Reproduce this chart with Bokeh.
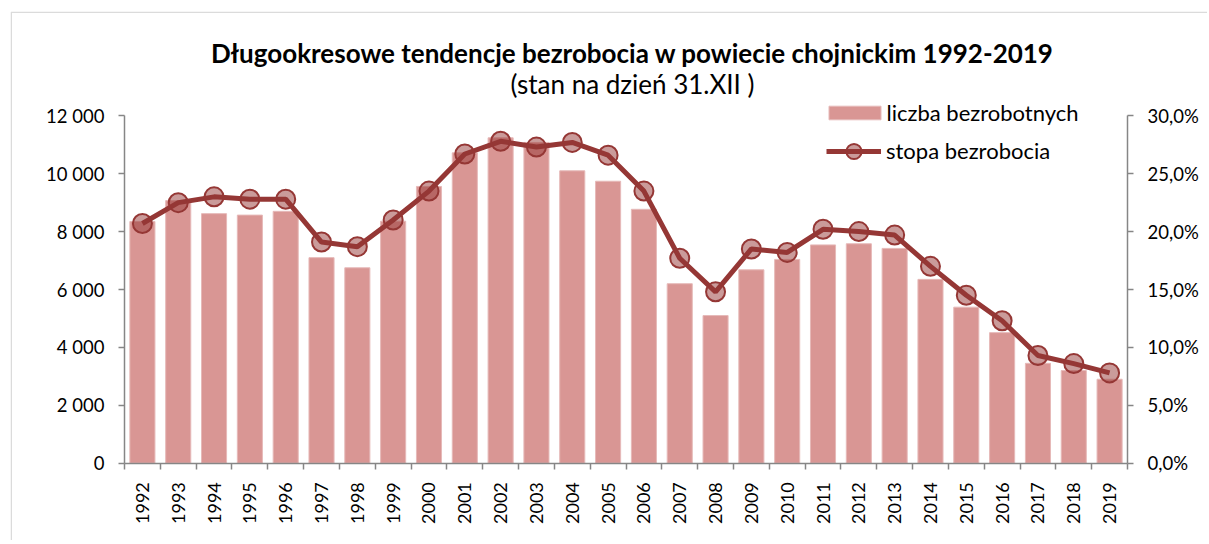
import math
from bokeh.plotting import figure
from bokeh.models import (Range1d, LinearAxis, FixedTicker, Legend, LegendItem,
                          Label, BoxAnnotation)
from bokeh.embed import file_html
from bokeh.resources import INLINE

years = [str(y) for y in range(1992, 2020)]
unemployed = [8350, 9070, 8620, 8570, 8700, 7100, 6750, 8360, 9560, 10720,
              11240, 11080, 10100, 9740, 8770, 6200, 5100, 6680, 7040, 7540,
              7580, 7420, 6350, 5390, 4510, 3450, 3200, 2900]
rate = [20.7, 22.5, 23.0, 22.8, 22.8, 19.1, 18.7, 21.0, 23.5, 26.7,
        27.8, 27.3, 27.7, 26.6, 23.5, 17.7, 14.8, 18.5, 18.2, 20.2,
        20.0, 19.7, 17.0, 14.5, 12.3, 9.3, 8.6, 7.8]
left_ticks = [0, 2000, 4000, 6000, 8000, 10000, 12000]
left_labels = ["0", "2 000", "4 000", "6 000", "8 000", "10 000", "12 000"]
right_ticks = [0, 5, 10, 15, 20, 25, 30]
right_labels = ["0,0%", "5,0%", "10,0%", "15,0%", "20,0%", "25,0%", "30,0%"]
title_text = "Długookresowe tendencje bezrobocia w powiecie chojnickim 1992-2019"
subtitle_text = "(stan na dzień 31.XII )"
bar_name = "liczba bezrobotnych"
line_name = "stopa bezrobocia"

FONT = "Lato"
AXIS_COLOR = "#868686"
BAR_COLOR = "#D99694"
LINE_COLOR = "#953735"

# ---- layout (pixels) ----
W, H = 1207, 540
FR_L, FR_T = 10, 11              # frame = whole chart area (outer border)
AX_L, AX_R = 124.0, 1127.0       # plot-area left / right (px)
AX_TOP, AX_BOT = 115.3, 462.7    # plot-area top (max value) / bottom (zero)

n = len(years)
xs = list(range(n))
Y_MAX = left_ticks[-1]
R_MAX = right_ticks[-1]

px_per_cat = (AX_R - AX_L) / n
x_start = -0.5 - (AX_L - FR_L) / px_per_cat
x_end = -0.5 + (W - AX_L) / px_per_cat
upp = Y_MAX / (AX_BOT - AX_TOP)
y_start = -(H - AX_BOT) * upp
y_end = (AX_BOT - FR_T) * upp
rpp = R_MAX / (AX_BOT - AX_TOP)
r_start = -(H - AX_BOT) * rpp
r_end = (AX_BOT - FR_T) * rpp

p = figure(width=W, height=H, output_backend="svg", toolbar_location=None,
           x_range=Range1d(x_start, x_end), y_range=Range1d(y_start, y_end),
           min_border_left=FR_L, min_border_right=0, min_border_top=FR_T,
           min_border_bottom=0, outline_line_color=None)
p.extra_y_ranges = {"rate": Range1d(r_start, r_end)}
p.xgrid.visible = False
p.ygrid.visible = False

bars = p.vbar(x=xs, top=unemployed, width=0.7, fill_color=BAR_COLOR,
              line_color="#E6B9B8", line_width=1)
line = p.line(x=xs, y=rate, y_range_name="rate", line_color=LINE_COLOR,
              line_width=5)
dots = p.scatter(x=xs, y=rate, y_range_name="rate", marker="circle", size=19,
                 fill_color=LINE_COLOR, fill_alpha=0.5, line_color=LINE_COLOR,
                 line_width=2)

# x axis
xa = p.xaxis[0]
xa.fixed_location = 0
xa.bounds = (-0.5, n - 0.5)
xa.ticker = FixedTicker(ticks=xs, minor_ticks=[i - 0.5 for i in range(n + 1)])
xa.major_label_overrides = {i: years[i] for i in xs}
xa.major_label_orientation = math.pi / 2
xa.major_tick_out = 0
xa.major_tick_in = 0
xa.minor_tick_out = 6
xa.minor_tick_in = 0
xa.minor_tick_line_color = AXIS_COLOR
xa.minor_tick_line_width = 1.5
xa.axis_line_color = AXIS_COLOR
xa.axis_line_width = 1.5
xa.major_label_standoff = 13
xa.major_label_text_font = FONT
xa.major_label_text_font_size = "18px"
xa.major_label_text_color = "black"

# left axis
ya = p.yaxis[0]
ya.fixed_location = -0.5
ya.bounds = (0, Y_MAX)
ya.ticker = FixedTicker(ticks=left_ticks)
ya.major_label_overrides = {t: l for t, l in zip(left_ticks, left_labels)}
ya.major_tick_out = 6
ya.major_tick_in = 0
ya.major_tick_line_color = AXIS_COLOR
ya.major_tick_line_width = 1.5
ya.minor_tick_line_color = None
ya.axis_line_color = AXIS_COLOR
ya.axis_line_width = 1.5
ya.major_label_standoff = 14
ya.major_label_text_font = FONT
ya.major_label_text_font_size = "18.5px"
ya.major_label_text_color = "black"

# right axis
ra = LinearAxis(y_range_name="rate", ticker=FixedTicker(ticks=right_ticks),
                fixed_location=n - 0.5, bounds=(0, R_MAX))
ra.major_label_overrides = {t: l for t, l in zip(right_ticks, right_labels)}
ra.major_tick_out = 6
ra.major_tick_in = 0
ra.major_tick_line_color = AXIS_COLOR
ra.major_tick_line_width = 1.5
ra.minor_tick_line_color = None
ra.axis_line_color = AXIS_COLOR
ra.axis_line_width = 1.5
ra.major_label_standoff = 14
ra.major_label_text_font = FONT
ra.major_label_text_font_size = "18.5px"
ra.major_label_text_color = "black"
p.add_layout(ra, "right")

# titles (screen units)
FH = H - FR_T
p.add_layout(Label(x=632 - FR_L, y=H - 52, x_units="screen", y_units="screen",
                   text=title_text, text_align="center", text_baseline="alphabetic",
                   text_font=FONT, text_font_style="bold", text_font_size="26px",
                   text_color="black"))
p.add_layout(Label(x=632 - FR_L, y=H - 83, x_units="screen", y_units="screen",
                   text=subtitle_text, text_align="center", text_baseline="alphabetic",
                   text_font=FONT, text_font_size="26px", text_color="black"))

# outer chart border (left and top edges; others run off the page)
p.add_layout(BoxAnnotation(left=0.75, right=W + 50, top=FH - 0.75, bottom=-50,
                           left_units="screen", right_units="screen",
                           top_units="screen", bottom_units="screen",
                           fill_alpha=0, line_color="#898989", line_width=1.5))

leg1 = Legend(items=[LegendItem(label=bar_name, renderers=[bars])],
              location=(821.5 - FR_L, H - 125.5), padding=0, spacing=0,
              glyph_width=65, glyph_height=17, label_height=17, label_standoff=0,
              label_text_font=FONT, label_text_font_size="22px",
              label_text_color="black", border_line_color=None,
              background_fill_alpha=0)
leg2 = Legend(items=[LegendItem(label=line_name, renderers=[line, dots])],
              location=(826 - FR_L, H - 169.7), padding=0, spacing=0,
              glyph_width=55, glyph_height=38, label_standoff=5,
              label_text_font=FONT, label_text_font_size="22px",
              label_text_color="black", border_line_color=None,
              background_fill_alpha=0)
p.add_layout(leg1, "center")
p.add_layout(leg2, "center")

open("out.html", "w").write(file_html(p, INLINE))
